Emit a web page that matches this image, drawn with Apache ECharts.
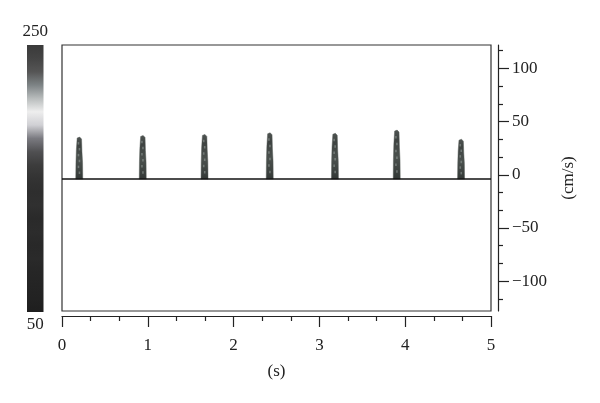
<!DOCTYPE html>
<html><head><meta charset="utf-8">
<script src="https://cdn.jsdelivr.net/npm/echarts@6/dist/echarts.min.js"></script>
<style>html,body{margin:0;padding:0;background:#fff}#c{width:600px;height:403px}</style>
</head><body><div id="c"></div>
<script>
// Data
const spikeTimes = [0.20, 0.94, 1.66, 2.42, 3.18, 3.90, 4.65];       // s
const spikePeaks = [35.5, 37, 38, 39.5, 39, 42, 33.5];              // cm/s
const baselineVelocity = -4;                                        // cm/s (trace zero line)
const yMajorTicks = [-100, -50, 0, 50, 100];
const yMinorTicks = [-116.67, -83.33, -66.67, -33.33, -16.67, 16.67, 33.33, 66.67, 83.33, 116.67];
const colorbarMin = 50, colorbarMax = 250;
// grayscale colour bar, top -> bottom
const colorbarColors = ['#3a3a3a','#444444','#555555','#7d8385','#b8bcbc','#eeeeee','#d0d0d4','#7a7a80','#505052','#3c3c3c','#333333','#2e2e2e','#303030','#2a2a2a','#2c2c2c','#282828','#2a2a2a','#262626','#242424','#222222','#1e1e1e'];

const FONT = '"Liberation Serif","DejaVu Serif",serif';
const FS = 17;
const chart = echarts.init(document.getElementById('c'));
const spikeData = spikeTimes.map((t, i) => [t, spikePeaks[i], baselineVelocity]);
const minus = v => String(v).replace('-', '\u2212');
const tickStyle = {color: '#222', width: 1.2};

const bar = {x: 27, y: 45, w: 16.5, h: 267};

chart.setOption({
  animation: false,
  grid: [
    {left: 62, top: 45, width: 429, height: 266, show: true, borderColor: '#333', borderWidth: 1.2, backgroundColor: 'transparent'},
    {left: 62, top: 45, width: 429, height: 271},
    {left: 62, top: 45, width: 436, height: 266},
    {left: 62, top: 45, width: 436, height: 266}
  ],
  xAxis: [
    {gridIndex: 0, type: 'value', min: 0, max: 5, show: false},
    {gridIndex: 1, type: 'value', min: 0, max: 5, interval: 1, position: 'bottom',
      axisLine: {show: true, onZero: false, lineStyle: tickStyle},
      axisTick: {show: true, length: 11, lineStyle: tickStyle},
      minorTick: {show: true, splitNumber: 3, length: 5, lineStyle: tickStyle},
      splitLine: {show: false},
      axisLabel: {margin: 21, fontFamily: FONT, fontSize: FS, color: '#222'},
      name: '(s)', nameLocation: 'middle', nameGap: 47,
      nameTextStyle: {fontFamily: FONT, fontSize: FS, color: '#222'}},
    {gridIndex: 2, type: 'value', min: 0, max: 5, show: false},
    {gridIndex: 3, type: 'value', min: 0, max: 5, show: false}
  ],
  yAxis: [
    {gridIndex: 0, type: 'value', min: -128, max: 122, show: false},
    {gridIndex: 1, type: 'value', min: 0, max: 1, show: false},
    {gridIndex: 2, type: 'value', min: -128, max: 122, position: 'right',
      axisLine: {show: true, onZero: false, lineStyle: tickStyle},
      axisTick: {show: true, length: 11, customValues: yMajorTicks, lineStyle: tickStyle},
      splitLine: {show: false},
      axisLabel: {margin: 14, customValues: yMajorTicks, formatter: minus, fontFamily: FONT, fontSize: FS, color: '#222', align: 'left'},
      name: '(cm/s)', nameLocation: 'middle', nameGap: 62, nameRotate: 90,
      nameTextStyle: {fontFamily: FONT, fontSize: FS, color: '#222'}},
    {gridIndex: 3, type: 'value', min: -128, max: 122, position: 'right',
      axisLine: {show: false, onZero: false},
      axisTick: {show: true, length: 5, customValues: yMinorTicks, lineStyle: tickStyle},
      splitLine: {show: false},
      axisLabel: {show: false}}
  ],
  graphic: [
    {type: 'rect', shape: {x: bar.x, y: bar.y, width: bar.w, height: bar.h},
      style: {fill: new echarts.graphic.LinearGradient(0, 0, 0, 1,
        colorbarColors.map((c, i) => ({offset: i / (colorbarColors.length - 1), color: c})))}},
    {type: 'text', x: bar.x + bar.w / 2, y: bar.y - 13,
      style: {text: String(colorbarMax), font: FS + 'px ' + FONT, fill: '#222', align: 'center', verticalAlign: 'middle'}},
    {type: 'text', x: bar.x + bar.w / 2, y: bar.y + bar.h + 13,
      style: {text: String(colorbarMin), font: FS + 'px ' + FONT, fill: '#222', align: 'center', verticalAlign: 'middle'}}
  ],
  series: [
    {type: 'line', xAxisIndex: 0, yAxisIndex: 0, data: [[0, baselineVelocity], [5, baselineVelocity]],
      symbol: 'none', lineStyle: {color: '#111', width: 1.4}, silent: true},
    {type: 'custom', xAxisIndex: 0, yAxisIndex: 0, data: spikeData,
      renderItem: function (params, api) {
        const top = api.coord([api.value(0), api.value(1)]);
        const bot = api.coord([api.value(0), api.value(2)]);
        const h = bot[1] - top[1];
        const x = top[0];
        const pts = [
          [x - 2.0, top[1] + 1], [x + 0.5, top[1]], [x + 2.4, top[1] + 2], [x + 2.8, top[1] + h * 0.35],
          [x + 3.4, top[1] + h * 0.6], [x + 3.6, bot[1]], [x - 3.4, bot[1]],
          [x - 3.2, top[1] + h * 0.6], [x - 2.8, top[1] + h * 0.3]
        ];
        const kids = [
          {type: 'polygon', shape: {points: pts},
            style: {fill: new echarts.graphic.LinearGradient(0, 0, 0, 1, [
              {offset: 0, color: '#505553'}, {offset: 0.2, color: '#3e4341'},
              {offset: 0.55, color: '#4b514e'}, {offset: 1, color: '#323735'}]),
              stroke: 'rgba(80,86,83,0.45)', lineWidth: 1}}
        ];
        // speckle texture
        for (let k = 0; k < 6; k++) {
          const fy = top[1] + h * (0.12 + k * 0.14);
          kids.push({type: 'rect', shape: {x: x - 1.5 + (k % 2), y: fy, width: 1.6, height: 2.5},
            style: {fill: 'rgba(150,158,154,0.55)'}});
        }
        return {type: 'group', children: kids};
      }}
  ]
});
</script></body></html>
